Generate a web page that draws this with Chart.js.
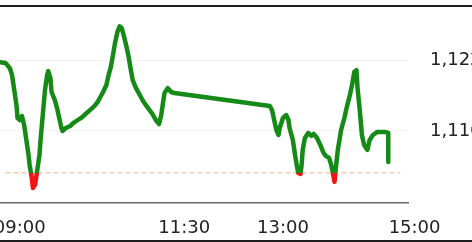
<!DOCTYPE html>
<html>
<head>
<meta charset="utf-8">
<script src="https://cdn.jsdelivr.net/npm/chart.js@4.4.1/dist/chart.umd.min.js"></script>
<style>
  html, body { margin: 0; padding: 0; background: #fff; overflow: hidden; }
  #wrap { position: relative; width: 472px; height: 242px; }
  #topLine { position: absolute; left: 0; top: 5px; width: 472px; height: 2px; background: #1e1e1e; }
  #bottomLine { position: absolute; left: 0; top: 240px; width: 472px; height: 2px; background: #1e1e1e; }
</style>
</head>
<body>
<div id="wrap">
  <canvas id="chart"></canvas>
  <div id="topLine"></div>
  <div id="bottomLine"></div>
</div>
<script>
// price trace
const times = [
  "08:42", "08:47", "08:51", "08:53", "08:55", "08:57", "08:58", "09:00", "09:02", "09:04",
  "09:06", "09:08", "09:09", "09:11", "09:12", "09:14", "09:16", "09:18", "09:19", "09:21",
  "09:23", "09:25", "09:26", "09:28", "09:29", "09:32", "09:34", "09:36", "09:38", "09:39",
  "09:42", "09:46", "09:49", "09:53", "09:57", "10:00", "10:04", "10:08", "10:11", "10:13",
  "10:16", "10:19", "10:21", "10:23", "10:25", "10:27", "10:29", "10:31", "10:33", "10:35",
  "10:37", "10:39", "10:41", "10:43", "10:46", "10:50", "10:53", "10:57", "11:01", "11:04",
  "11:07", "11:09", "11:11", "11:12", "11:15", "11:18", "11:21",
  "12:48", "12:50", "12:52", "12:54", "12:56", "12:57", "13:00", "13:03", "13:05", "13:06",
  "13:09", "13:11", "13:13", "13:14", "13:16", "13:17", "13:18", "13:20", "13:23", "13:26",
  "13:28", "13:31", "13:34", "13:37", "13:39", "13:42", "13:44", "13:46", "13:47", "13:48",
  "13:50", "13:53", "13:56", "13:58", "14:01", "14:03", "14:05", "14:07", "14:08", "14:10",
  "14:12", "14:14", "14:17", "14:19", "14:22", "14:26", "14:29", "14:33", "14:36", "14:36"
];
const prices = [
  1.12183, 1.12175, 1.12132, 1.12073, 1.11946, 1.11820, 1.11710, 1.11693, 1.11727, 1.11651,
  1.11524, 1.11397, 1.11313, 1.11203, 1.11118, 1.11144, 1.11270, 1.11397, 1.11524, 1.11735,
  1.11946, 1.12073, 1.12107, 1.12048, 1.11930, 1.11862, 1.11794, 1.11710, 1.11625, 1.11600,
  1.11625, 1.11642, 1.11668, 1.11693, 1.11718, 1.11744, 1.11777, 1.11811, 1.11845, 1.11879,
  1.11930, 1.11989, 1.12073, 1.12141, 1.12242, 1.12352, 1.12437, 1.12487, 1.12470, 1.12403,
  1.12327, 1.12242, 1.12132, 1.12031, 1.11963, 1.11896, 1.11845, 1.11794, 1.11744, 1.11693,
  1.11659, 1.11735, 1.11862, 1.11921, 1.11963, 1.11930, 1.11921,
  1.11811, 1.11777, 1.11693, 1.11608, 1.11566, 1.11625, 1.11710, 1.11735, 1.11693, 1.11625,
  1.11524, 1.11397, 1.11287, 1.11245, 1.11237, 1.11313, 1.11439, 1.11541, 1.11583, 1.11558,
  1.11575, 1.11541, 1.11482, 1.11414, 1.11389, 1.11372, 1.11313, 1.11220, 1.11169, 1.11270,
  1.11439, 1.11608, 1.11710, 1.11794, 1.11904, 1.11989, 1.12099, 1.12115, 1.11963, 1.11777,
  1.11566, 1.11482, 1.11439, 1.11524, 1.11566, 1.11592, 1.11592, 1.11592, 1.11583, 1.11338
];

// dashed support level
const supportLevel = 1.11245;
const supportFrom = "08:47";
const supportTo = "14:47";

// axes
const xTickLabels = ["09:00", "11:30", "13:00", "15:00"];
const yTickValues = [1.116, 1.122];
const xRange = ["08:42", "14:54"];
const yRange = [1.1099, 1.1265];

const GREEN = "#168a16";
const RED = "#f01414";

function toMin(s) {
  const [h, m] = s.split(":").map(Number);
  return h * 60 + m;
}

function toClock(v) {
  const h = Math.floor(v / 60);
  const m = Math.round(v - h * 60);
  return String(h).padStart(2, "0") + ":" + String(m).padStart(2, "0");
}

// green above the support level, red below it
function priceColor(context) {
  const chart = context.chart;
  const area = chart.chartArea;
  if (!area) return GREEN;
  const yPix = chart.scales.y.getPixelForValue(supportLevel);
  let stop = (yPix - area.top) / (area.bottom - area.top);
  stop = Math.min(Math.max(stop, 0), 1);
  const g = chart.ctx.createLinearGradient(0, area.top, 0, area.bottom);
  g.addColorStop(0, GREEN);
  g.addColorStop(stop, GREEN);
  g.addColorStop(stop, RED);
  g.addColorStop(1, RED);
  return g;
}

const tickFont = { family: "DejaVu Sans", size: 18 };

new Chart(document.getElementById("chart"), {
  type: "line",
  data: {
    datasets: [
      {
        label: "Price",
        data: times.map((t, i) => ({ x: toMin(t), y: prices[i] })),
        borderColor: priceColor,
        borderWidth: 4.5,
        borderJoinStyle: "round",
        borderCapStyle: "round",
        pointRadius: 0,
        tension: 0,
      },
      {
        label: "Support",
        data: [
          { x: toMin(supportFrom), y: supportLevel },
          { x: toMin(supportTo), y: supportLevel },
        ],
        borderColor: "#f3b27a",
        borderWidth: 1,
        borderDash: [5, 3],
        pointRadius: 0,
      },
    ],
  },
  options: {
    responsive: true,
    maintainAspectRatio: false,
    animation: false,
    layout: { autoPadding: false, padding: { top: 7, bottom: 3, left: 0, right: 0 } },
    plugins: { legend: { display: false }, tooltip: { enabled: false } },
    scales: {
      x: {
        type: "linear",
        min: toMin(xRange[0]),
        max: toMin(xRange[1]),
        afterBuildTicks: (scale) => {
          scale.ticks = xTickLabels.map((t) => ({ value: toMin(t) }));
        },
        afterFit: (scale) => {
          // labels may hang off the edges, like the original
          scale.paddingLeft = 0;
          scale.paddingRight = 0;
          scale.height = 36;
        },
        grid: { display: false, drawTicks: false },
        border: { display: true, color: "#6a6a6a", width: 1.5 },
        ticks: {
          autoSkip: false,
          maxRotation: 0,
          padding: 15,
          color: "#222",
          font: tickFont,
          callback: (v) => toClock(v),
        },
      },
      y: {
        position: "right",
        min: yRange[0],
        max: yRange[1],
        afterBuildTicks: (scale) => {
          scale.ticks = yTickValues.map((v) => ({ value: v }));
        },
        afterFit: (scale) => {
          scale.width = 64;
          scale.paddingTop = 0;
          scale.paddingBottom = 0;
        },
        grid: { color: "#f3f3f3", drawTicks: false },
        border: { display: false },
        ticks: {
          padding: 22,
          color: "#222",
          font: tickFont,
          callback: (v) => v.toFixed(3).replace(".", ","),
        },
      },
    },
  },
});
</script>
</body>
</html>
